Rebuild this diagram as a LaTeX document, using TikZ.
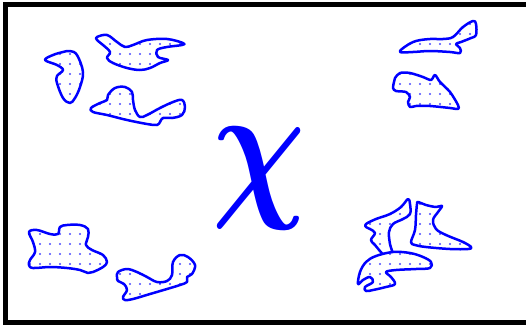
\documentclass[tikz,border=0pt]{standalone}
\usepackage{amsmath}
\usepackage{xcolor}
\usepackage{tikz}
\usetikzlibrary{patterns.meta}
\tikzstyle{blob} = [draw=blue, line width=2.5pt, line join=round, preaction={fill=white}, pattern={Dots[distance=10pt, radius=1.2pt]}, pattern color=blue!70]

\begin{document}
\begin{tikzpicture}[x=1pt, y=-1pt]
\useasboundingbox (0,0) rectangle (526,324);
% Frame
\draw [line width=5pt] (5.5,4.5) rectangle (540,322.5);

% Big letter
\node (chi) [text=blue, inner sep=0pt, xscale=13, yscale=16] at (259,178) {$\boldsymbol{\chi}$};

% Upper left blobs
\draw [blob] plot[smooth cycle, tension=0.6] coordinates {(45,60) (53,55) (63,52) (70,51) (77,55) (83,72) (80,87) (75,98) (70,103) (63,98) (57,83) (57,76) (63,70) (57,65)};
\draw [blob] plot[smooth cycle, tension=0.6] coordinates {(97,37) (107,35) (117,42) (125,47) (133,45) (147,40) (167,39) (183,43) (182,45) (167,47) (157,50) (158,57) (168,60) (160,63) (150,68) (140,70) (127,68) (113,63) (107,58) (110,52) (103,45) (97,40)};
\draw [blob] plot[smooth cycle, tension=0.6] coordinates {(91,108) (100,103) (107,100) (108,95) (115,88) (125,87) (132,92) (133,100) (135,110) (140,117) (147,115) (160,108) (173,102) (182,100) (185,107) (182,115) (172,118) (163,118) (160,122) (157,125) (147,124) (127,120) (107,115) (93,112)};

% Upper right blobs
\draw [blob] plot[smooth cycle, tension=0.6] coordinates {(400,52) (406,46) (416,41) (430,39) (443,39) (453,37) (463,27) (473,21) (476,24) (476,35) (471,38) (461,42) (456,44) (460,48) (460,53) (450,52) (430,51) (413,52)};
\draw [blob] plot[smooth cycle, tension=0.5] coordinates {(395,78) (400,73) (410,73) (423,77) (431,80) (435,75) (440,82) (450,92) (458,105) (458,109) (450,108) (430,106) (416,106) (410,107) (408,102) (410,97) (406,92) (396,91) (393,88) (394,82)};

% Lower left blobs
\draw [blob] plot[smooth cycle, tension=0.6] coordinates {(29,232) (37,230) (50,234) (58,234) (60,227) (67,225) (80,225) (88,229) (88,237) (86,245) (92,250) (103,255) (107,262) (103,267) (93,272) (88,273) (80,270) (67,268) (50,267) (33,268) (29,265) (30,260) (35,252) (33,242)};
\draw [blob] plot[smooth cycle, tension=0.6] coordinates {(118,272) (127,269) (137,272) (147,277) (157,282) (167,281) (172,275) (173,262) (180,255) (188,257) (195,265) (192,274) (187,277) (187,282) (180,285) (167,289) (150,294) (133,299) (125,300) (123,297) (127,290) (124,284) (118,281) (117,277)};

% Lower right cluster
\draw [blob] plot[smooth cycle, tension=0.6] coordinates {(366,224) (376,219) (390,214) (401,207) (408,199) (410,204) (410,214) (403,219) (393,224) (389,232) (390,244) (393,256) (385,256) (375,245) (371,240) (375,233) (370,229) (366,227)};
\draw [blob] plot[smooth cycle, tension=0.6] coordinates {(418,202) (426,205) (436,207) (442,206) (438,212) (433,220) (436,229) (446,235) (463,242) (471,247) (468,249) (450,249) (426,247) (415,245) (411,242) (415,230) (416,215) (417,204)};
\draw [blob] plot[smooth cycle, tension=0.6] coordinates {(358,284) (360,272) (366,262) (376,256) (393,252) (410,253) (423,257) (431,262) (430,268) (416,269) (396,270) (386,272) (391,277) (395,284) (386,287) (373,290) (366,291) (365,287) (373,282) (370,277) (363,280)};
\end{tikzpicture}
\end{document}
